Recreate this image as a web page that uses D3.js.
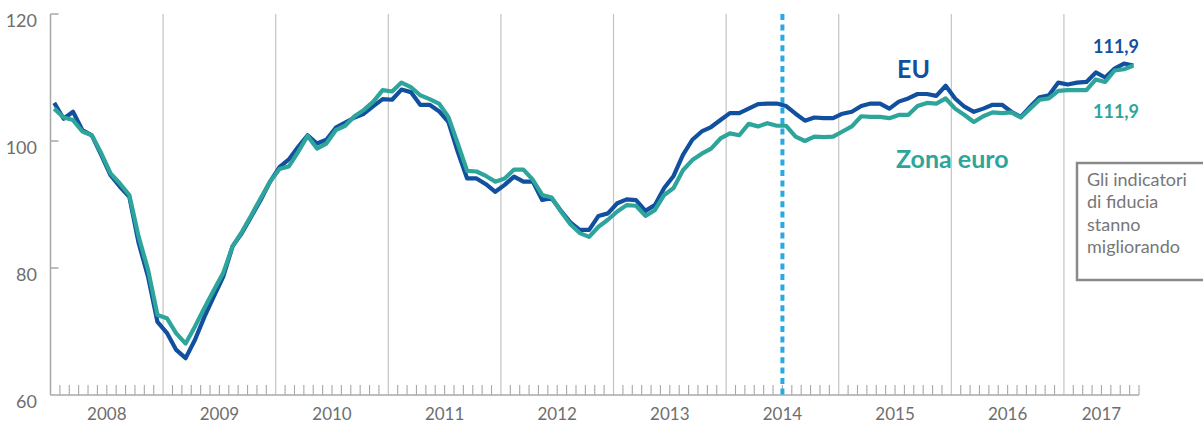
<!DOCTYPE html>
<html>
<head>
<meta charset="utf-8">
<script src="https://cdn.jsdelivr.net/npm/d3@7"></script>
<style>
  html, body { margin: 0; padding: 0; background: #fff; }
  svg { display: block; font-family: Lato, "Open Sans", sans-serif; }
</style>
</head>
<body>
<svg id="chart" width="1203" height="425"></svg>
<script>
// ---- Data (monthly, Jan 2008 – Aug 2017) ----
const startYear = 2008;
const yearLabels = ["2008","2009","2010","2011","2012","2013","2014","2015","2016","2017"];
const yTicks = [60, 80, 100, 120];
const seriesNames = ["EU", "Zona euro"];
const lastLabels = ["111,9", "111,9"];
const markerMonth = 78; // July 2014
const noteLines = ["Gli indicatori", "di fiducia", "stanno", "migliorando"];

const eu = [
  106.0,103.5,104.6,101.7,100.9,97.8,94.6,92.8,91.2,83.9,78.6,71.5,
  69.8,67.1,65.8,68.7,72.3,75.5,78.6,83.4,85.5,88.1,90.7,93.6,
  95.9,97.1,99.1,100.9,99.6,100.2,102.1,102.9,103.7,104.3,105.5,106.6,
  106.5,108.1,107.7,105.7,105.7,104.7,103.0,98.3,94.1,94.1,93.2,92.0,
  93.1,94.4,93.6,93.6,90.7,91.0,89.0,87.2,86.0,86.0,88.2,88.6,
  90.2,90.8,90.7,89.0,89.9,92.6,94.5,97.8,100.2,101.5,102.2,103.3,
  104.4,104.4,105.1,105.8,105.9,105.9,105.5,104.3,103.2,103.7,103.6,103.6,
  104.3,104.6,105.5,105.9,105.9,105.1,106.2,106.7,107.4,107.4,107.1,108.7,
  106.7,105.4,104.6,105.1,105.7,105.7,104.6,103.8,105.4,106.9,107.2,109.2,
  108.9,109.2,109.3,110.8,110.0,111.4,112.2,111.9
];
const ea = [
  105.1,103.7,103.3,101.5,100.9,98.1,94.9,93.3,91.5,84.9,79.7,72.6,
  72.1,69.7,68.1,70.8,73.7,76.5,79.2,83.4,85.7,88.3,91.0,93.6,
  95.6,96.0,98.3,100.8,98.8,99.6,101.7,102.4,103.9,104.9,106.2,108.0,
  107.8,109.2,108.5,107.2,106.6,105.9,103.8,99.6,95.3,95.2,94.5,93.6,
  94.1,95.5,95.5,93.9,91.5,91.1,88.9,86.9,85.5,84.9,86.5,87.6,
  88.9,89.9,89.8,88.2,89.1,91.5,92.6,95.4,97.0,98.0,98.8,100.4,
  101.2,100.9,102.7,102.3,102.8,102.4,102.4,100.7,100.0,100.7,100.6,100.7,
  101.5,102.3,103.9,103.8,103.8,103.6,104.1,104.1,105.5,106.0,105.9,106.7,
  105.1,104.1,103.0,103.9,104.5,104.4,104.5,103.7,105.1,106.5,106.7,107.9,
  108.0,108.0,108.0,109.7,109.3,111.1,111.3,111.9
];

// ---- Layout ----
const colors = { eu: "#114f9f", ea: "#2ea59b", grid: "#c4c4c4", axis: "#a8a8a8", text: "#6e6e6e", marker: "#2aa8e2", note: "#8a8a8a" };
const nMonths = eu.length;
const svg = d3.select("#chart");

const x = d3.scaleLinear().domain([0, nMonths]).range([50.5, 1139]);
const y = d3.scaleLinear().domain([60, 120]).range([395, 14]);

// year separators (vertical grid)
const yearBounds = d3.range(12, nMonths, 12);
svg.append("g").selectAll("line").data(yearBounds).join("line")
  .attr("x1", d => x(d)).attr("x2", d => x(d))
  .attr("y1", y(120)).attr("y2", y(60))
  .attr("stroke", colors.grid).attr("stroke-width", 1.2);

// monthly minor ticks
const minor = d3.range(1, nMonths + 1).filter(m => m % 12 !== 0);
svg.append("g").selectAll("line").data(minor).join("line")
  .attr("x1", d => x(d)).attr("x2", d => x(d))
  .attr("y1", y(60) - 10).attr("y2", y(60))
  .attr("stroke", colors.axis).attr("stroke-width", 1.1);

// x axis baseline
svg.append("line")
  .attr("x1", x(0)).attr("x2", x(nMonths))
  .attr("y1", y(60)).attr("y2", y(60))
  .attr("stroke", colors.axis).attr("stroke-width", 1.5);

// y axis
svg.append("line")
  .attr("x1", x(0)).attr("x2", x(0))
  .attr("y1", y(120)).attr("y2", y(60))
  .attr("stroke", colors.axis).attr("stroke-width", 1.5);
svg.append("g").selectAll("line").data(yTicks.filter(t => t !== 60)).join("line")
  .attr("x1", x(0)).attr("x2", x(0) + 8)
  .attr("y1", d => y(d)).attr("y2", d => y(d))
  .attr("stroke", colors.axis).attr("stroke-width", 1.5);
svg.append("g").selectAll("text").data(yTicks).join("text")
  .attr("x", 37).attr("y", d => y(d) + 13)
  .attr("text-anchor", "end")
  .attr("font-size", 18).attr("fill", colors.text)
  .text(d => d);

// year labels
svg.append("g").selectAll("text").data(yearLabels).join("text")
  .attr("x", (d, i) => (x(i * 12) + x(Math.min((i + 1) * 12, nMonths))) / 2)
  .attr("y", 420)
  .attr("text-anchor", "middle")
  .attr("font-size", 17).attr("fill", colors.text)
  .text(d => d);

// marker dotted line
svg.append("line")
  .attr("x1", x(markerMonth)).attr("x2", x(markerMonth))
  .attr("y1", y(120)).attr("y2", y(60))
  .attr("stroke", colors.marker).attr("stroke-width", 4)
  .attr("stroke-dasharray", "6,4.4");

// lines
const line = d3.line().x((d, i) => x(i + 0.4)).y(d => y(d));
svg.append("path").datum(eu).attr("d", line)
  .attr("fill", "none").attr("stroke", colors.eu).attr("stroke-width", 4.2)
  .attr("stroke-linejoin", "round");
svg.append("path").datum(ea).attr("d", line)
  .attr("fill", "none").attr("stroke", colors.ea).attr("stroke-width", 4.2)
  .attr("stroke-linejoin", "round");

// series labels
svg.append("text").attr("x", 897).attr("y", 78)
  .attr("font-size", 25).attr("font-weight", 700).attr("fill", colors.eu)
  .text(seriesNames[0]);
svg.append("text").attr("x", 896).attr("y", 168)
  .attr("font-size", 25).attr("font-weight", 700).attr("fill", colors.ea)
  .text(seriesNames[1]);

// end value labels
svg.append("text").attr("x", 1139).attr("y", 53)
  .attr("text-anchor", "end").attr("font-size", 18).attr("font-weight", 700)
  .attr("fill", colors.eu).text(lastLabels[0]);
svg.append("text").attr("x", 1139).attr("y", 118)
  .attr("text-anchor", "end").attr("font-size", 18).attr("font-weight", 700)
  .attr("fill", colors.ea).text(lastLabels[1]);

// note box
svg.append("rect").attr("x", 1077).attr("y", 163).attr("width", 140).attr("height", 117)
  .attr("fill", "#fff").attr("stroke", colors.note).attr("stroke-width", 2.5);
svg.append("g").selectAll("text").data(noteLines).join("text")
  .attr("x", 1087).attr("y", (d, i) => 186 + i * 22.3)
  .attr("font-size", 18).attr("fill", "#777")
  .text(d => d);
</script>
</body>
</html>
